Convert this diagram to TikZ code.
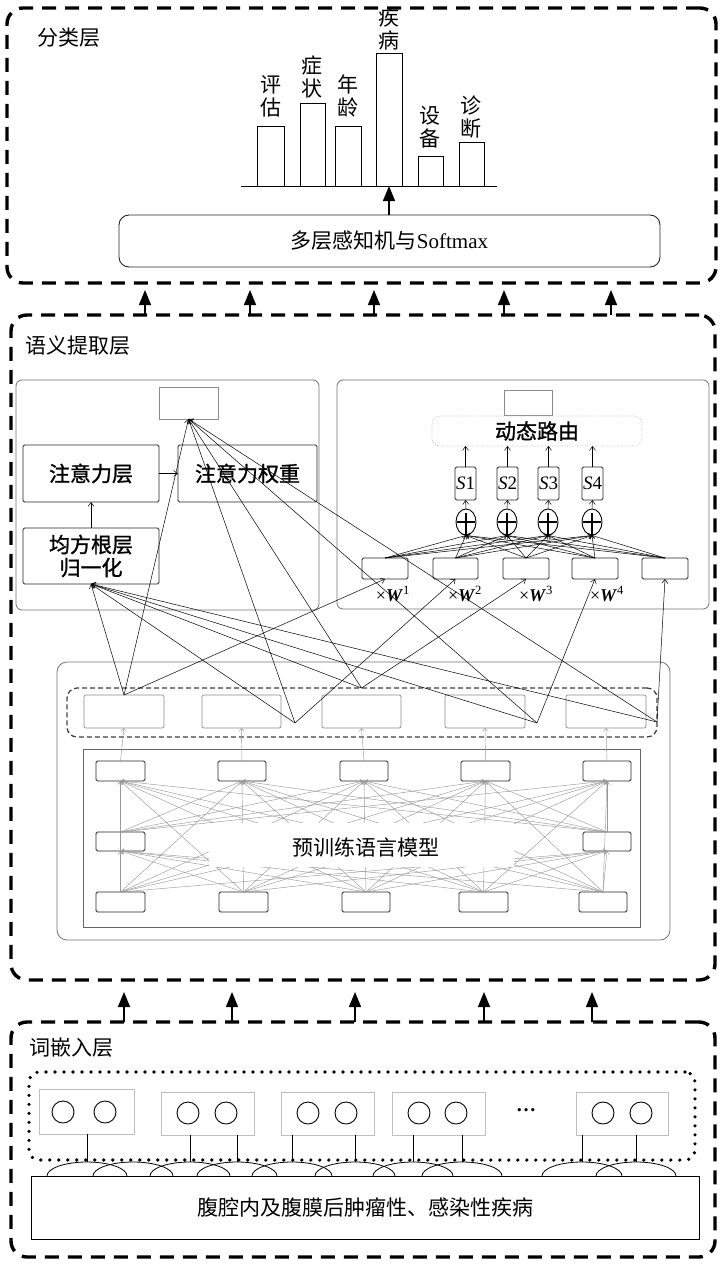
\documentclass[tikz,border=0pt]{standalone}
\usepackage{fontspec}
\setmainfont{Liberation Serif}
\newfontfamily\cjk{Noto Sans CJK SC}
\newfontfamily\cjkb[FakeBold=1.2]{Noto Sans CJK SC}
\usetikzlibrary{arrows.meta,shapes.geometric}
\newcommand\mybox[6][]{\node[#2,anchor=north west,inner sep=0pt,outer sep=0pt,minimum width={(#5-#3)*1pt},minimum height={(#6-#4)*1pt},#1] at (#3,#4)}
\begin{document}
\begin{tikzpicture}[x=1pt,y=-1pt,
  layerbox/.style={draw=black, line width=3.4pt, dash pattern=on 14pt off 9pt, rounded corners=16pt},
  panel/.style={draw=black!55, line width=0.8pt, rounded corners=6pt},
  bbox/.style={draw=black!85, line width=0.9pt, rounded corners=1.5pt},
  lbox/.style={draw=black!45, line width=0.7pt},
  vlbox/.style={draw=black!25, line width=0.7pt},
  bar/.style={draw=black, line width=0.9pt},
  layerarrow/.style={-{Triangle[length=15pt,width=12pt]}, line width=1.4pt},
  slim/.style={line width=0.5pt, -{Straight Barb[length=4pt,width=6pt]}},
  fan/.style={line width=0.5pt, -{Straight Barb[length=3pt,width=5pt]}},
  glink/.style={draw=black!40, line width=0.45pt, -{Straight Barb[length=3pt,width=5pt]}},
  cjkt/.style={font={\cjk\fontsize{21}{24}\selectfont}},
  cjkbt/.style={font={\cjkb\fontsize{21}{24}\selectfont}},
  barlab/.style={font={\cjk\fontsize{21}{23}\selectfont}, align=center},
  dotbox/.style={draw=black, line width=3.6pt, line cap=round, dash pattern=on 0pt off 9pt, rounded corners=10pt},
  darkdash/.style={draw=black!75, line width=1.3pt, dash pattern=on 5pt off 3pt, rounded corners=10pt},
  tok/.style={draw=black, circle, minimum size=22pt, inner sep=0pt, line width=0.9pt},
]
\useasboundingbox (0,0) rectangle (723,1266);

% ================= classification layer
\mybox{layerbox}{7}{8}{716}{283} (L1) {};
\node[cjkt, anchor=west] (L1t) at (34,38) {分类层};
\coordinate (bl) at (241,186);
\coordinate (br) at (497,186);
\draw[line width=1pt] (bl) -- (br);
\mybox{bar}{257}{126}{284}{186} (bar1) {};
\mybox{bar}{300}{103}{325}{186} (bar2) {};
\mybox{bar}{335}{126}{361}{186} (bar3) {};
\mybox{bar}{376}{53}{402}{186} (bar4) {};
\mybox{bar}{418}{156}{443}{186} (bar5) {};
\mybox{bar}{459}{142}{484}{186} (bar6) {};
\node[barlab] (lab1) at (271,96) {评\\估};
\node[barlab] (lab2) at (312,77) {症\\状};
\node[barlab] (lab3) at (348,96) {年\\龄};
\node[barlab] (lab4) at (389,29) {疾\\病};
\node[barlab] (lab5) at (430,127) {设\\备};
\node[barlab] (lab6) at (471,117) {诊\\断};
\mybox[rounded corners=10pt, font=\fontsize{21}{24}\selectfont]{bbox}{119}{215}{660}{267} (mlp) {{\cjk 多层感知机与}Softmax};
\draw[layerarrow] (mlp.north -| bar4.south) -- (bar4.south);

% ================= semantic layer
\mybox{layerbox}{11}{315}{715}{980} (L2) {};
\foreach \x [count=\k] in {145,250,374,504,611} {
  \coordinate (u\k) at (\x,290);
  \draw[layerarrow] (L2.north -| u\k) -- (u\k);
}
\node[cjkt, anchor=west] (L2t) at (22,346) {语义提取层};

% left panel
\mybox{panel}{16}{380}{319}{610} (lp) {};
\mybox{lbox}{159}{387}{218}{419} (ltop) {};
\mybox[cjkbt]{bbox}{23}{445}{159}{502} (att) {注意力层};
\mybox[cjkbt]{bbox}{178}{445}{317}{502} (attw) {注意力权重};
\mybox[cjkbt, align=center, font={\cjkb\fontsize{21}{23}\selectfont}]{bbox}{23}{528}{159}{584} (rms) {均方根层\\归一化};
\draw[slim] (att.east) -- (attw.west);
\draw[slim] (rms.north) -- (att.south);

% right panel
\mybox{panel}{337}{380}{709}{609} (rp) {};
\mybox{lbox}{504}{390}{552}{415} (rtop) {};
\mybox[cjkbt, rounded corners=8pt]{draw=black!25, line width=0.6pt, dash pattern=on 1pt off 1.5pt}{432}{416}{642}{446} (dyn) {动态路由};
\foreach \x/\xa/\xb [count=\k] in {466/455/476, 507/497/518, 548/538/559, 592/582/603} {
  \mybox[font=\fontsize{19}{20}\selectfont]{bbox}{\xa}{467}{\xb}{500} (s\k) {\textit{S}\k};
  \node[draw, ellipse, minimum width=20pt, minimum height=26pt, inner sep=0pt, line width=0.9pt] (c\k) at (\x,522) {};
  \draw[line width=2pt] ([yshift=9pt]c\k.center) -- ([yshift=-15pt]c\k.center);
  \draw[line width=2pt] ([xshift=-9pt]c\k.center) -- ([xshift=9pt]c\k.center);
  \draw[slim] (c\k.north) -- (s\k.south);
  \draw[slim] (s\k.north) -- (s\k.north |- dyn.south);
}
\foreach \xa/\xb [count=\k] in {362/408, 433/478, 503/549, 572/618, 642/688} {
  \mybox{bbox}{\xa}{558}{\xb}{579} (rb\k) {};
}
\foreach \i in {1,...,5} {\foreach \j in {1,...,4} {\draw[fan] (rb\i.north) -- (c\j.south);}}
\foreach \x/\n [count=\k] in {393/1, 465/2, 536/3, 607/4} {
  \node[font=\fontsize{18}{18}\selectfont] (w\k) at (\x,594) {×\textbf{\textit{W}}\textsuperscript{\n}};
}

% middle region
\mybox{panel, rounded corners=10pt}{57}{662}{670}{940} (mid) {};
\mybox{darkdash}{67}{688}{657}{737} (dbox) {};
\foreach \xa/\xb [count=\k] in {84/164, 202/281, 322/401, 445/525, 566/646} {
  \mybox{lbox, rounded corners=2pt}{\xa}{695}{\xb}{728} (d\k) {};
}
\mybox{draw=black!60, line width=0.8pt}{83}{749}{640}{927} (plm) {};
\foreach \xa/\xb [count=\k] in {96/145, 218/266, 340/388, 461/510, 583/631} {
  \mybox{bbox}{\xa}{761}{\xb}{781} (t\k) {};
  \draw[glink] (t\k.north) -- (d\k.south);
}
\mybox{bbox}{96}{832}{145}{851} (m1) {};
\mybox{bbox}{583}{832}{631}{851} (m2) {};
\foreach \xa/\xb [count=\k] in {96/145, 219/268, 342/390, 459/508, 579/627} {
  \mybox{bbox}{\xa}{892}{\xb}{912} (b\k) {};
}
\foreach \i in {1,...,5} {
  \foreach \j in {1,...,5} {\draw[glink] (b\i.north) -- (t\j.south);}
  \draw[glink] (b\i.north) -- (m1.south);
  \draw[glink] (b\i.north) -- (m2.south);
}
\foreach \j in {1,...,5} {
  \draw[glink] (m1.north) -- (t\j.south);
  \draw[glink] (m2.north) -- (t\j.south);
}
\node[fill=white, minimum width=305pt, minimum height=44pt, inner sep=0pt] (plmbg) at (361,845) {};
\node[cjkt] (plmt) at (366,847) {预训练语言模型};

% long connections
\coordinate (P1) at (d1.north);
\coordinate (P2) at (295,723);
\coordinate (P3) at (d3.north |- dbox.north);
\coordinate (P4) at (537,723);
\coordinate (P5) at (657,722);
\foreach \p in {P1,P2,P3,P4,P5} {
  \draw[slim] (\p) -- (rms.south);
  \draw[slim] (\p) -- (ltop.south);
}
\draw[slim] (P1) -- (rb1.south);
\draw[slim] (P2) -- (rb2.south);
\draw[slim] (P3) -- (rb3.south);
\draw[slim] (P4) -- (rb4.south);
\draw[slim] (P5) -- (rb5.south);

% ================= embedding layer
\mybox{layerbox}{11}{1022}{715}{1257} (L3) {};
\foreach \x [count=\k] in {124,232,355,484,592} {
  \coordinate (v\k) at (\x,992);
  \draw[layerarrow] (L3.north -| v\k) -- (v\k);
}
\node[cjkt, anchor=west] (L3t) at (26,1048) {词嵌入层};
\mybox{dotbox}{29}{1072}{695}{1160} (dots) {};
\mybox{vlbox}{39}{1089}{134}{1134} (e1) {};
\mybox{vlbox}{161}{1092}{254}{1135} (e2) {};
\mybox{vlbox}{281}{1092}{374}{1135} (e3) {};
\mybox{vlbox}{392}{1092}{485}{1135} (e4) {};
\mybox{vlbox}{576}{1092}{668}{1135} (e5) {};
\node[tok] (e1a) at (63,1112) {};  \node[tok] (e1b) at (105,1112) {};
\node[tok] (e2a) at (188,1113) {}; \node[tok] (e2b) at (226,1113) {};
\node[tok] (e3a) at (308,1113) {}; \node[tok] (e3b) at (346,1113) {};
\node[tok] (e4a) at (419,1113) {}; \node[tok] (e4b) at (456,1113) {};
\node[tok] (e5a) at (603,1113) {}; \node[tok] (e5b) at (641,1113) {};
\node[font=\bfseries\fontsize{20}{20}\selectfont] (ell) at (526,1110) {…};
\foreach \x [count=\k] in {87,133,190,237,292,355,413,462,582,636} {
  \coordinate (a\k) at (\x,1162);
  \draw[line width=0.8pt] (\x-40,1176) arc[start angle=180, end angle=360, x radius=40, y radius=14];
}
\draw[line width=0.8pt] (e1.south -| a1) -- (a1);
\draw[line width=0.8pt] (e2.south -| a3) -- (a3);
\draw[line width=0.8pt] (e2.south -| a4) -- (a4);
\draw[line width=0.8pt] (e3.south -| a5) -- (a5);
\draw[line width=0.8pt] (e3.south -| a6) -- (a6);
\draw[line width=0.8pt] (e4.south -| a7) -- (a7);
\draw[line width=0.8pt] (e4.south -| a8) -- (a8);
\draw[line width=0.8pt] (e5.south -| a9) -- (a9);
\draw[line width=0.8pt] (e5.south -| a10) -- (a10);
\mybox[cjkt, fill=white]{draw=black, line width=1pt}{31}{1176}{699}{1239} (sent) {腹腔内及腹膜后肿瘤性、感染性疾病};
\end{tikzpicture}
\end{document}
